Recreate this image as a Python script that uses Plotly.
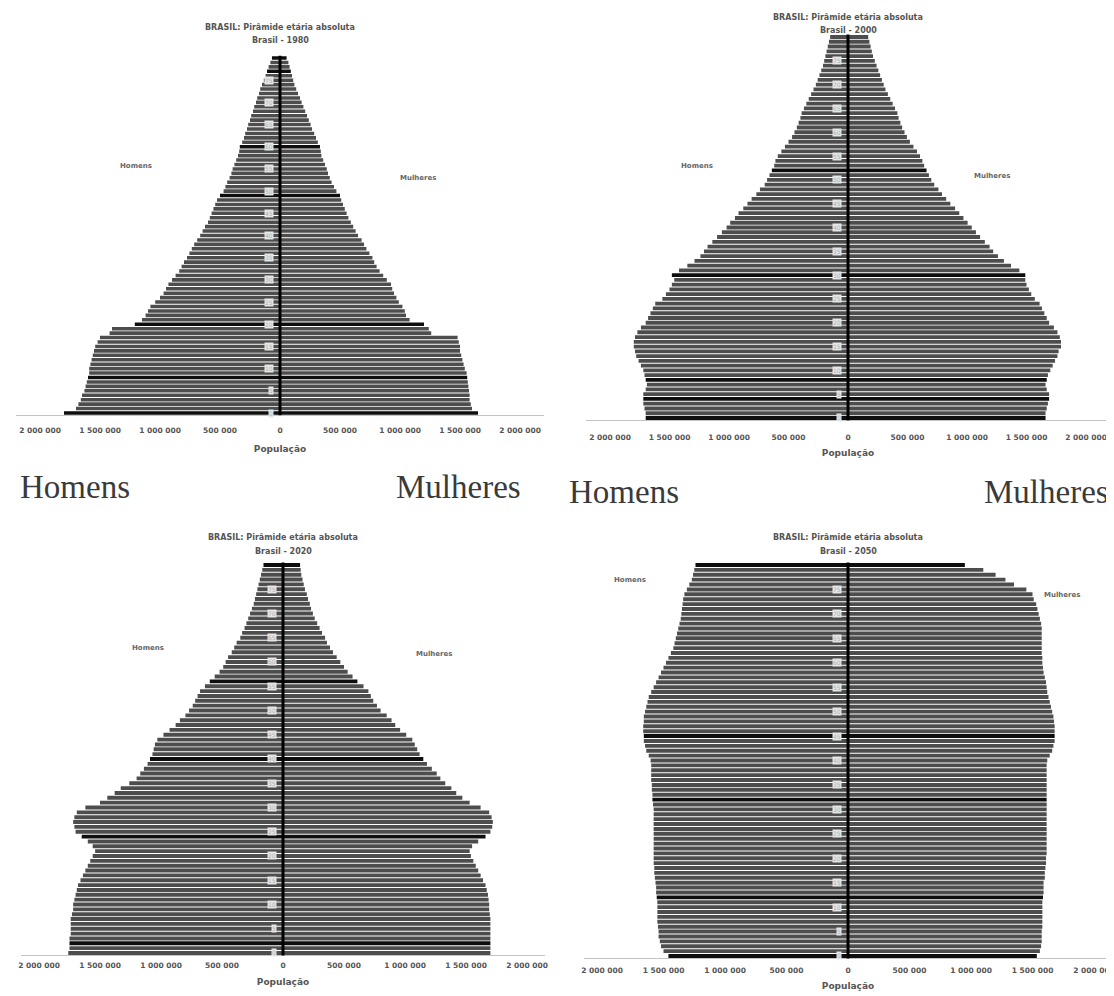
import plotly.graph_objects as go

# ---------------- data (thousands of people, single ages 0..80) ----------------
ages = list(range(81))
tick_vals = [-2000, -1500, -1000, -500, 0, 500, 1000, 1500, 2000]
tick_text = ["2 000 000", "1 500 000", "1 000 000", "500 000", "0",
             "500 000", "1 000 000", "1 500 000", "2 000 000"]
years = ["1980", "2000", "2020", "2050"]

men_1980 = [1800, 1700, 1680, 1660, 1650, 1630, 1620, 1610, 1600, 1590,
            1590, 1580, 1570, 1560, 1550, 1540, 1520, 1500, 1420, 1400,
            1210, 1150, 1120, 1100, 1080, 1040, 1000, 970, 950, 930,
            900, 870, 840, 820, 800, 775, 755, 735, 715, 690,
            665, 645, 625, 600, 585, 570, 555, 540, 525, 500,
            470, 455, 440, 420, 405, 395, 380, 365, 350, 340,
            335, 315, 300, 290, 275, 265, 250, 240, 225, 215,
            200, 190, 175, 165, 150, 135, 120, 108, 95, 80, 67]
women_1980 = [1650, 1600, 1590, 1580, 1580, 1575, 1570, 1565, 1560, 1555,
              1540, 1530, 1520, 1510, 1500, 1500, 1490, 1480, 1260, 1240,
              1200, 1080, 1050, 1040, 1020, 990, 970, 950, 935, 925,
              890, 860, 830, 805, 785, 770, 745, 720, 700, 680,
              650, 630, 610, 590, 570, 555, 540, 525, 510, 500,
              470, 450, 430, 415, 400, 390, 375, 360, 345, 340,
              333, 315, 300, 285, 267, 255, 240, 225, 210, 195,
              180, 167, 150, 135, 120, 110, 100, 90, 80, 70, 55]

men_2000 = [1700, 1700, 1710, 1720, 1720, 1720, 1700, 1690, 1700, 1710,
            1720, 1740, 1760, 1780, 1790, 1800, 1800, 1790, 1770, 1740,
            1700, 1680, 1660, 1640, 1620, 1560, 1530, 1500, 1480, 1460,
            1480, 1420, 1350, 1290, 1240, 1210, 1180, 1140, 1100, 1060,
            1020, 990, 950, 920, 880, 845, 810, 770, 740, 700,
            680, 660, 640, 620, 610, 590, 560, 530, 500, 470,
            450, 430, 415, 400, 390, 370, 350, 330, 310, 290,
            270, 255, 240, 225, 210, 200, 190, 180, 170, 160, 150]
women_2000 = [1660, 1660, 1670, 1680, 1690, 1690, 1670, 1660, 1670, 1680,
              1700, 1720, 1740, 1760, 1770, 1790, 1790, 1780, 1760, 1730,
              1690, 1670, 1650, 1630, 1610, 1570, 1540, 1520, 1500, 1490,
              1490, 1440, 1370, 1310, 1260, 1220, 1190, 1150, 1110, 1075,
              1040, 1005, 970, 935, 900, 860, 825, 790, 760, 725,
              700, 680, 660, 640, 625, 605, 580, 550, 520, 495,
              475, 455, 440, 425, 415, 395, 375, 355, 335, 315,
              300, 285, 270, 255, 240, 225, 210, 200, 190, 180, 170]

men_2020 = [1760, 1750, 1750, 1750, 1740, 1740, 1740, 1740, 1730, 1720,
            1720, 1710, 1700, 1690, 1680, 1660, 1640, 1620, 1600, 1580,
            1560, 1540, 1560, 1600, 1650, 1700, 1710, 1720, 1710, 1690,
            1620, 1500, 1440, 1380, 1330, 1260, 1200, 1170, 1140, 1110,
            1090, 1070, 1060, 1050, 1030, 980, 930, 880, 845, 800,
            770, 740, 720, 700, 680, 640, 600, 560, 520, 490,
            470, 450, 420, 400, 380, 350, 335, 315, 300, 285,
            270, 255, 240, 230, 220, 210, 200, 190, 180, 170, 160]
women_2020 = [1700, 1700, 1700, 1700, 1700, 1700, 1700, 1700, 1695, 1690,
              1690, 1685, 1680, 1670, 1660, 1640, 1620, 1600, 1580, 1560,
              1540, 1530, 1550, 1600, 1660, 1700, 1715, 1720, 1710, 1690,
              1620, 1530, 1470, 1420, 1380, 1330, 1290, 1260, 1220, 1180,
              1150, 1120, 1100, 1080, 1060, 1010, 960, 920, 890, 850,
              800, 770, 740, 720, 700, 660, 610, 570, 530, 500,
              470, 440, 410, 385, 360, 345, 320, 300, 280, 260,
              245, 230, 220, 205, 195, 180, 170, 160, 150, 145, 140]

men_2050 = [1460, 1500, 1520, 1530, 1540, 1540, 1545, 1550, 1550, 1550,
            1550, 1550, 1555, 1560, 1560, 1565, 1570, 1575, 1575, 1580,
            1580, 1580, 1580, 1580, 1580, 1580, 1580, 1580, 1580, 1580,
            1580, 1585, 1590, 1590, 1595, 1595, 1600, 1600, 1600, 1600,
            1605, 1620, 1640, 1650, 1660, 1660, 1665, 1665, 1660, 1660,
            1650, 1640, 1630, 1620, 1600, 1580, 1560, 1540, 1520, 1500,
            1480, 1460, 1440, 1420, 1410, 1400, 1390, 1380, 1370, 1360,
            1355, 1350, 1345, 1340, 1330, 1310, 1290, 1270, 1260, 1250, 1240]
women_2050 = [1535, 1560, 1570, 1575, 1575, 1575, 1580, 1580, 1580, 1580,
              1580, 1580, 1585, 1590, 1590, 1590, 1600, 1600, 1605, 1610,
              1610, 1615, 1615, 1615, 1615, 1615, 1615, 1615, 1615, 1615,
              1615, 1615, 1615, 1615, 1615, 1615, 1615, 1615, 1615, 1615,
              1620, 1640, 1660, 1670, 1680, 1680, 1680, 1680, 1675, 1670,
              1660, 1650, 1640, 1630, 1620, 1615, 1610, 1600, 1590, 1585,
              1580, 1580, 1575, 1575, 1575, 1575, 1575, 1575, 1570, 1560,
              1550, 1540, 1530, 1510, 1500, 1450, 1350, 1280, 1200, 1100, 950]

# ---------------- layout / style ----------------
W, H = 1114, 996
OFF = 8  # page body margin of the written html
def fx(x): return (x - OFF) / W
def fy(y): return 1 - (y - OFF) / H

BAR = "#4d4d4d"
DARK = "#0e0e0e"
panels = [
    dict(year=years[0], men=men_1980, women=women_1980, cx=280, s=0.12, xlim=2200,
         y0=413, y80=58, title_y=27, line_top=81.6, dark=[0, 8, 20, 49, 60, 77, 80],
         lab_m=(118, 160), lab_w=(418, 172), tl_off=8, tt_off=11),
    dict(year=years[1], men=men_2000, women=women_2000, cx=848, s=0.119, xlim=2200,
         y0=418, y80=37, title_y=17, line_top=81.0, dark=[0, 4, 8, 30, 52],
         lab_m=(697, 160), lab_w=(1012, 170), tl_off=10, tt_off=8),
    dict(year=years[2], men=men_2020, women=women_2020, cx=283, s=0.122, xlim=2150,
         y0=953, y80=565, title_y=537, line_top=81.2, dark=[2, 24, 40, 56, 80],
         lab_m=(130, 648), lab_w=(434, 654), tl_off=3, tt_off=9),
    dict(year=years[3], men=men_2050, women=women_2050, cx=848, s=0.123, xlim=2150,
         y0=956, y80=565, title_y=537, line_top=81.0, dark=[0, 12, 32, 45, 80],
         lab_m=(630, 580), lab_w=(1082, 595), tl_off=5, tt_off=8),
]

fig = go.Figure()
annotations = []
shapes = []
tick_font = dict(family="DejaVu Sans", size=7.5, color="#555555", weight="bold")
title_font = dict(family="DejaVu Sans", size=8, color="#555555", weight="bold")

for i, p in enumerate(panels, start=1):
    xa = "x" if i == 1 else f"x{i}"
    ya = "y" if i == 1 else f"y{i}"
    colors = [DARK if a in p["dark"] else BAR for a in ages]
    fig.add_trace(go.Bar(y=ages, x=[-v for v in p["men"]], orientation="h",
                         marker=dict(color=colors, line=dict(width=0)),
                         xaxis=xa, yaxis=ya, showlegend=False, name="Homens"))
    fig.add_trace(go.Bar(y=ages, x=p["women"], orientation="h",
                         marker=dict(color=colors, line=dict(width=0)),
                         xaxis=xa, yaxis=ya, showlegend=False, name="Mulheres"))
    ppa = (p["y0"] - p["y80"]) / 80.0
    left = p["cx"] - p["xlim"] * p["s"]
    right = min(p["cx"] + p["xlim"] * p["s"], W + OFF)
    xmax = (right - p["cx"]) / p["s"]
    bottom = p["y0"] + 0.5 * ppa
    top = p["y80"] - 0.5 * ppa
    xkey = "xaxis" if i == 1 else f"xaxis{i}"
    ykey = "yaxis" if i == 1 else f"yaxis{i}"
    fig.update_layout({
        xkey: dict(domain=[max(fx(left), 0), min(fx(right), 1)], range=[-p["xlim"], xmax],
                   anchor=ya, tickvals=tick_vals, ticktext=tick_text,
                   tickfont=tick_font, showgrid=False, zeroline=False,
                   showline=True, linecolor="#c4c4c4", linewidth=1, ticks="",
                   automargin=False, ticklabelstandoff=p["tl_off"],
                   title=dict(text="População", font=dict(family="DejaVu Sans", size=9,
                              color="#555555", weight="bold"), standoff=p["tt_off"]),
                   fixedrange=True),
        ykey: dict(domain=[fy(bottom), fy(top)], range=[-0.5, 80.5], anchor=xa,
                   visible=False, fixedrange=True, automargin=False),
    })
    # central axis line
    shapes.append(dict(type="line", xref=xa, yref=ya, x0=0, x1=0, y0=-0.6, y1=p["line_top"],
                       line=dict(color="#000000", width=3)))
    # titles
    annotations.append(dict(x=fx(p["cx"]), y=fy(p["title_y"]), xref="paper", yref="paper",
                            text="BRASIL: Pirâmide etária absoluta", showarrow=False,
                            font=title_font, xanchor="center", yanchor="middle"))
    annotations.append(dict(x=fx(p["cx"]), y=fy(p["title_y"] + 14), xref="paper", yref="paper",
                            text="Brasil - " + p["year"], showarrow=False,
                            font=title_font, xanchor="center", yanchor="middle"))
    # small sex labels
    annotations.append(dict(x=fx(p["lab_m"][0]), y=fy(p["lab_m"][1]), xref="paper", yref="paper",
                            text="Homens", showarrow=False,
                            font=dict(family="DejaVu Sans", size=7, color="#666666", weight="bold")))
    annotations.append(dict(x=fx(p["lab_w"][0]), y=fy(p["lab_w"][1]), xref="paper", yref="paper",
                            text="Mulheres", showarrow=False,
                            font=dict(family="DejaVu Sans", size=7, color="#666666", weight="bold")))
    # age labels near centre
    for a in range(0, 80, 5):
        annotations.append(dict(x=0, y=a, xref=xa, yref=ya, text=str(a), showarrow=False,
                                xanchor="right", xshift=-6,
                                font=dict(family="DejaVu Sans", size=6, color="#b0b0b0"),
                                bgcolor="#e6e6e6", borderpad=0))

# big serif labels between rows
big = dict(family="Liberation Serif", size=33, color="#3a3a3a")
for txt, x, y in [("Homens", 75, 487), ("Mulheres", 458, 487),
                  ("Homens", 624, 492), ("Mulheres", 1046, 492)]:
    annotations.append(dict(x=fx(x), y=fy(y), xref="paper", yref="paper", text=txt,
                            showarrow=False, font=big, xanchor="center", yanchor="middle"))

fig.update_layout(width=W, height=H,
                  margin=dict(l=0, r=0, t=0, b=0, autoexpand=False),
                  paper_bgcolor="white", plot_bgcolor="white",
                  barmode="overlay", bargap=0.2, annotations=annotations, shapes=shapes)

fig.write_html("out.html")
